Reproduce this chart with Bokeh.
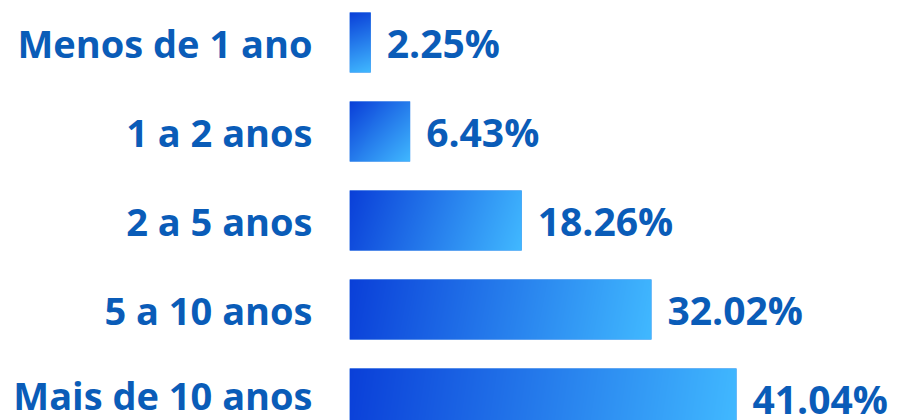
import numpy as np
from bokeh.plotting import figure
from bokeh.models import FixedTicker, Range1d
from bokeh.embed import file_html
from bokeh.resources import INLINE
from bokeh.core.properties import value

# ---- data ----
categories = ["Menos de 1 ano", "1 a 2 anos", "2 a 5 anos", "5 a 10 anos", "Mais de 10 anos"]
shares = [2.25, 6.43, 18.26, 32.02, 41.04]
value_labels = [f"{v:.2f}%" for v in shares]

# ---- layout ----
W, H = 897, 420
LEFT = 349
frame_w = W - LEFT
px_per_x = 9.43
px_per_y = 89.0
n = len(categories)
y_pos = [n - 1 - i for i in range(n)]
y_end = (n - 1) + 42 / px_per_y
y_start = y_end - H / px_per_y
bar_h = 60 / px_per_y

TEXT_COLOR = "#0a5cb8"
FONT = "Open Sans"

c0 = np.array([10, 63, 216], dtype=float)
c1 = np.array([65, 185, 255], dtype=float)


def gradient(wpx, hpx):
    nw = max(int(round(wpx)), 1)
    nh = max(int(round(hpx)), 1)
    xs = np.arange(nw) + 0.5
    ys = (nh - 1 - np.arange(nh)) + 0.5  # distance from top; row 0 is bottom
    X, Y = np.meshgrid(xs, ys)
    t = np.clip((X * wpx + Y * hpx) / (wpx ** 2 + hpx ** 2), 0, 1)
    rgb = c0 + (c1 - c0) * t[..., None]
    img = np.empty((nh, nw), dtype=np.uint32)
    view = img.view(dtype=np.uint8).reshape((nh, nw, 4))
    view[..., 0] = rgb[..., 0].round().astype(np.uint8)
    view[..., 1] = rgb[..., 1].round().astype(np.uint8)
    view[..., 2] = rgb[..., 2].round().astype(np.uint8)
    view[..., 3] = 255
    return img


p = figure(width=W, height=H, output_backend="svg", toolbar_location=None,
           x_range=Range1d(0, frame_w / px_per_x), y_range=Range1d(y_start, y_end),
           x_axis_location=None, min_border_left=LEFT, min_border_right=0,
           min_border_top=0, min_border_bottom=0, outline_line_color=None)
p.grid.visible = False
p.background_fill_color = "white"
p.border_fill_color = "white"

# bars (solid base + gradient image on top)
p.hbar(y=y_pos, right=shares, left=0, height=bar_h, fill_color="#2a7ce8", line_color=None)
imgs = [gradient(v * px_per_x, bar_h * px_per_y) for v in shares]
p.image_rgba(image=imgs, x=[0] * n, y=[yp - bar_h / 2 for yp in y_pos], dw=shares, dh=[bar_h] * n)

# value labels
p.text(x=shares, y=y_pos, text=value_labels, x_offset=16, text_align="left",
       text_baseline="middle", text_font=value(FONT), text_font_style="bold",
       text_font_size="39px", text_color=TEXT_COLOR)

# category axis
ax = p.yaxis[0]
ax.ticker = FixedTicker(ticks=y_pos)
ax.major_label_overrides = {yp: c for yp, c in zip(y_pos, categories)}
ax.axis_line_color = None
ax.major_tick_line_color = None
ax.minor_tick_line_color = None
ax.major_tick_out = 0
ax.major_tick_in = 0
ax.major_label_standoff = 37
ax.major_label_text_font = FONT
ax.major_label_text_font_style = "bold"
ax.major_label_text_font_size = "38px"
ax.major_label_text_color = TEXT_COLOR

open("out.html", "w").write(file_html(p, INLINE))
